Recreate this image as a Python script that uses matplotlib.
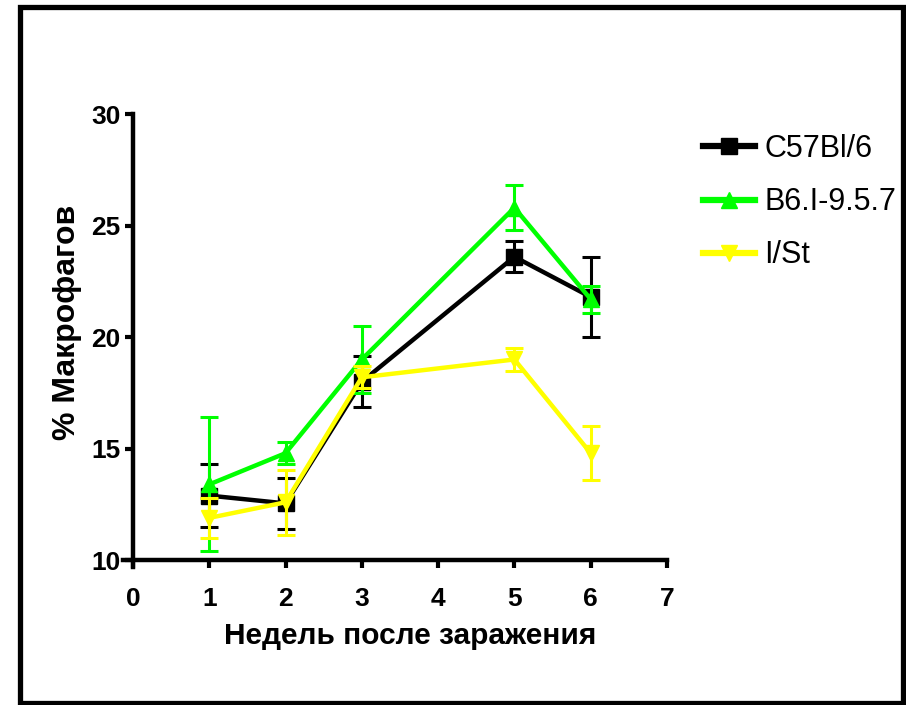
import matplotlib
matplotlib.use("Agg")
import matplotlib.pyplot as plt
from matplotlib.patches import Rectangle

plt.rcParams['font.family'] = ['Liberation Sans', 'DejaVu Sans']

weeks = [1, 2, 3, 5, 6]

c57_mean = [12.9, 12.55, 18.0, 23.6, 21.8]
c57_err = [1.4, 1.15, 1.15, 0.7, 1.8]

b6_mean = [13.4, 14.8, 19.0, 25.8, 21.7]
b6_err = [3.0, 0.5, 1.5, 1.0, 0.6]

ist_mean = [11.9, 12.6, 18.2, 19.0, 14.8]
ist_err = [0.9, 1.45, 0.5, 0.5, 1.2]

series_labels = ['C57Bl/6', 'B6.I-9.5.7', 'I/St']
x_ticks = [0, 1, 2, 3, 4, 5, 6, 7]
y_ticks = [10, 15, 20, 25, 30]

W, H = 906, 705
fig = plt.figure(figsize=(W / 100, H / 100), dpi=100)
ax = fig.add_axes([123 / W, 1 - 567 / H, (667 - 123) / W, (567 - 114) / H])

series = [
    (c57_mean, c57_err, '#000000', 's'),
    (b6_mean, b6_err, '#00ff00', '^'),
    (ist_mean, ist_err, '#ffff00', 'v'),
]
for (m, e, col, mk), lab in zip(series, series_labels):
    ax.errorbar(weeks, m, yerr=e, fmt='none', ecolor=col, elinewidth=2.2,
                capsize=6.5, capthick=2.2)
    ax.plot(weeks, m, color=col, lw=3.2, marker=mk, ms=12, mec=col, mfc=col,
            label=lab)

ax.set_xlim(-0.13, 7)
ax.set_ylim(9.7, 30)
ax.spines['left'].set_position(('data', 0))
ax.spines['bottom'].set_position(('data', 10))
ax.spines['right'].set_visible(False)
ax.spines['top'].set_visible(False)
for s in ('left', 'bottom'):
    ax.spines[s].set_linewidth(3.2)

ax.set_xticks(x_ticks)
ax.set_yticks(y_ticks)
ax.tick_params(direction='out', length=6, width=3, labelsize=19)
ax.tick_params(axis='x', pad=13)
ax.tick_params(axis='y', pad=3)
for lbl in ax.get_xticklabels() + ax.get_yticklabels():
    lbl.set_fontweight('bold')

ax.set_xlabel('Недель после заражения', fontsize=21.5, fontweight='bold')
ax.set_ylabel('% Макрофагов', fontsize=23, fontweight='bold')
ax.xaxis.set_label_coords(0.528, -0.121)
ax.yaxis.set_label_coords(-0.075, 0.539)

leg = ax.legend(loc='upper left', bbox_to_anchor=(703 / W, 1 - 134 / H),
                bbox_transform=fig.transFigure, frameon=False, fontsize=22,
                handlelength=1.7, handletextpad=0.3, labelspacing=0.76,
                borderpad=0, borderaxespad=0)
for h in leg.legend_handles:
    h.set_linewidth(4.5)

fig.patches.append(Rectangle((19.5 / W, 1 - 702.5 / H), (903.5 - 19.5) / W,
                             (702.5 - 7) / H, transform=fig.transFigure,
                             fill=False, edgecolor='black', linewidth=3.8))

fig.savefig('out.png', dpi=100, facecolor='white')
